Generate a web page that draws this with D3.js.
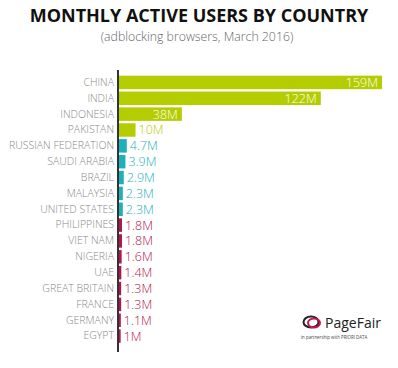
<!DOCTYPE html>
<html><head><meta charset="utf-8">
<script src="https://cdn.jsdelivr.net/npm/d3@7"></script>
<style>
body{margin:0;background:#fff;}
svg{display:block;font-family:"Open Sans",sans-serif;}
</style></head>
<body><svg id="c" width="398" height="368"></svg>
<script>
const countries = ["CHINA","INDIA","INDONESIA","PAKISTAN","RUSSIAN FEDERATION","SAUDI ARABIA","BRAZIL","MALAYSIA","UNITED STATES","PHILIPPINES","VIET NAM","NIGERIA","UAE","GREAT BRITAIN","FRANCE","GERMANY","EGYPT"];
const users = [159,122,38,10,4.7,3.9,2.9,2.3,2.3,1.8,1.8,1.6,1.4,1.3,1.3,1.1,1];
const valueLabels = ["159M","122M","38M","10M","4.7M","3.9M","2.9M","2.3M","2.3M","1.8M","1.8M","1.6M","1.4M","1.3M","1.3M","1.1M","1M"];
const groups = ["g","g","g","g","t","t","t","t","t","r","r","r","r","r","r","r","r"];
const groupColors = {g:"#b4cd00", t:"#1cb0ba", r:"#b3144e"};
const insideLabels = ["CHINA","INDIA","INDONESIA"];

const svg = d3.select("#c");
svg.append("text").attr("x",199).attr("y",22).attr("text-anchor","middle")
  .attr("font-size",18).attr("font-weight",700).attr("fill","#111").text("MONTHLY ACTIVE USERS BY COUNTRY");
svg.append("text").attr("x",197).attr("y",41).attr("text-anchor","middle")
  .attr("font-size",12.3).attr("font-weight",300).attr("fill","#666").text("(adblocking browsers, March 2016)");

const x = d3.scaleLinear().domain([0,159]).range([119,382]);
const y = d3.scaleBand().domain(countries).range([74.5,344]).paddingInner(0.15).paddingOuter(0.075);

const data = countries.map((c,i)=>({c, v:users[i], l:valueLabels[i], g:groups[i]}));

svg.append("g").selectAll("rect").data(data).join("rect")
  .attr("x",x(0)).attr("y",d=>y(d.c)).attr("width",d=>x(d.v)-x(0)).attr("height",y.bandwidth())
  .attr("fill",d=>groupColors[d.g]);

const yAxis = svg.append("g").attr("transform",`translate(${x(0)-1},0)`)
  .call(d3.axisLeft(y).tickSize(0).tickPadding(4));
yAxis.select(".domain").remove();
yAxis.selectAll("text").attr("font-size",10.5).attr("font-weight",300).attr("fill","#888")
  .attr("font-family","Open Sans, sans-serif");
svg.append("line").attr("x1",x(0)-1).attr("x2",x(0)-1).attr("y1",70).attr("y2",352)
  .attr("stroke","#333").attr("stroke-width",2);

svg.append("g").selectAll("text").data(data).join("text")
  .attr("x",d=>insideLabels.includes(d.c)? x(d.v)-4 : x(d.v)+3)
  .attr("y",d=>y(d.c)+y.bandwidth()/2).attr("dy","0.36em")
  .attr("text-anchor",d=>insideLabels.includes(d.c)?"end":"start")
  .attr("font-size",12.5).attr("font-weight",300)
  .attr("fill",d=>insideLabels.includes(d.c)?"#fff":groupColors[d.g])
  .text(d=>d.l);

// logo
const logo = svg.append("g").attr("transform","translate(303,314)");
logo.append("ellipse").attr("cx",8).attr("cy",8).attr("rx",7.5).attr("ry",5.5)
  .attr("fill","none").attr("stroke","#222").attr("stroke-width",2);
logo.append("ellipse").attr("cx",11).attr("cy",9).attr("rx",6).attr("ry",4.5)
  .attr("fill","none").attr("stroke","#c8174f").attr("stroke-width",2);
logo.append("text").attr("x",22).attr("y",14).attr("font-size",14).attr("fill","#222")
  .attr("font-family","Open Sans, sans-serif").text("PageFair");
logo.append("text").attr("x",-2).attr("y",25).attr("font-size",4.4).attr("fill","#444")
  .text("in partnership with PRIORI DATA");
</script></body></html>
